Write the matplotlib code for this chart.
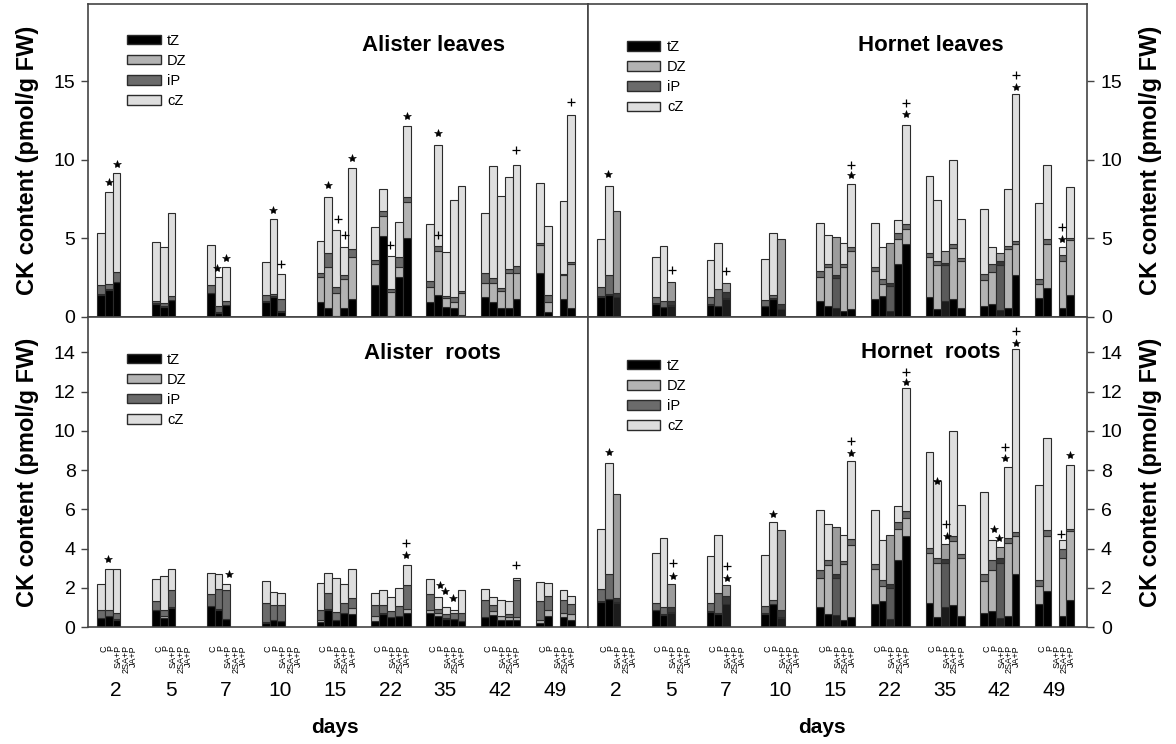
import matplotlib
matplotlib.use('Agg')
import matplotlib.pyplot as plt
from matplotlib.patches import Patch
from matplotlib.transforms import blended_transform_factory

plt.rcParams['font.family'] = ['Liberation Sans', 'DejaVu Sans']

# ---------------- data ----------------
days = [2, 5, 7, 10, 15, 22, 35, 42, 49]
treatments = ['C', 'P', 'SA+P', '2SA+P', 'JA+P']
day_slots = [[0, 1, 2], [0, 1, 2], [0, 1, 2], [0, 1, 2],
             [0, 1, 2, 3, 4], [0, 1, 2, 3, 4], [0, 1, 2, 3, 4], [0, 1, 2, 3, 4],
             [0, 1, 3, 4]]
components = ['tZ', 'DZ', 'iP', 'cZ']

# Alister leaves (pmol/g FW)
al_leaves_tZ = [1.40, 1.72, 2.21, 0.83, 0.66, 1.08, 1.51, 0.27, 0.76, 0.97, 1.29, 0.34,
                0.97, 0.55, 0.05, 0.55, 1.13, 2.04, 5.18, 0.05, 2.53, 5.05,
                0.97, 1.40, 0.62, 0.55, 0.10, 1.25, 0.93, 0.55, 0.55, 1.13,
                2.82, 0.34, 1.13, 0.55]
al_leaves_DZ = [0.05, 0.03, 0.04, 0.03, 0.03, 0.03, 0.04, 0.03, 0.03, 0.03, 0.03, 0.03,
                1.56, 2.65, 1.46, 1.85, 2.71, 1.34, 1.25, 1.55, 0.67, 2.23,
                0.96, 2.80, 0.57, 0.42, 1.45, 0.94, 1.26, 1.13, 2.23, 1.69,
                1.75, 0.63, 1.55, 2.81]
al_leaves_iP = [0.59, 0.35, 0.64, 0.18, 0.18, 0.23, 0.49, 0.40, 0.23, 0.40, 0.13, 0.76,
                0.29, 0.86, 0.42, 0.28, 0.47, 0.25, 0.28, 0.16, 0.64, 0.32,
                0.38, 0.34, 0.17, 0.28, 0.10, 0.59, 0.27, 0.15, 0.26, 0.45,
                0.16, 0.43, 0.07, 0.16]
al_leaves_cZ = [3.29, 5.84, 6.26, 3.72, 3.57, 5.30, 2.55, 1.87, 2.18, 2.08, 4.79, 1.61,
                2.04, 3.56, 3.61, 1.80, 5.16, 2.12, 1.42, 2.14, 2.23, 4.57,
                3.59, 6.37, 2.76, 6.20, 6.71, 3.86, 7.11, 5.88, 5.83, 6.41,
                3.78, 4.40, 4.64, 9.35]

# Hornet (same values shown in both Hornet panels)
ho_tZ = [1.29, 1.41, 1.24, 0.85, 0.61, 0.73, 0.78, 0.68, 1.16, 0.68, 1.16, 0.48,
         1.00, 0.68, 0.60, 0.36, 0.51, 1.16, 1.33, 0.39, 3.40, 4.64,
         1.24, 0.51, 1.02, 1.12, 0.56, 0.73, 0.82, 0.44, 0.56, 2.69,
         1.19, 1.83, 0.55, 1.40]
ho_DZ = [0.05, 0.04, 0.03, 0.03, 0.03, 0.03, 0.03, 0.03, 0.03, 0.03, 0.03, 0.03,
         1.52, 2.48, 1.90, 2.84, 3.67, 1.78, 0.76, 1.58, 1.58, 0.94,
         2.55, 2.77, 2.26, 3.27, 2.98, 1.62, 2.07, 2.84, 3.74, 1.95,
         0.91, 2.83, 2.98, 3.51]
ho_iP = [0.58, 1.24, 0.23, 0.36, 0.38, 0.26, 0.43, 1.04, 0.39, 0.34, 0.20, 0.34,
         0.38, 0.24, 0.20, 0.17, 0.29, 0.26, 0.31, 0.21, 0.39, 0.34,
         0.26, 0.26, 0.17, 0.25, 0.20, 0.37, 0.51, 0.26, 0.22, 0.21,
         0.30, 0.30, 0.43, 0.11]
ho_cZ = [3.06, 5.66, 5.27, 2.55, 3.50, 1.19, 2.38, 2.93, 0.56, 2.62, 3.98, 4.08,
         3.05, 1.84, 2.40, 1.31, 4.00, 2.75, 2.02, 2.50, 0.80, 6.28,
         4.89, 3.91, 0.77, 5.36, 2.47, 4.17, 1.02, 0.54, 3.61, 9.30,
         4.86, 4.68, 0.49, 3.26]

# Alister roots
al_roots_tZ = [0.46, 0.54, 0.37, 0.85, 0.48, 0.99, 1.05, 0.88, 0.39, 0.22, 0.34, 0.29,
               0.26, 0.88, 0.34, 0.70, 0.68, 0.31, 0.65, 0.51, 0.54, 0.70,
               0.70, 0.54, 0.43, 0.39, 0.29, 0.51, 0.60, 0.37, 0.34, 0.37,
               0.22, 0.54, 0.51, 0.37]
al_roots_DZ = [0.02, 0.02, 0.02, 0.02, 0.07, 0.02, 0.02, 0.02, 0.02, 0.02, 0.04, 0.02,
               0.11, 0.02, 0.02, 0.02, 0.28, 0.23, 0.05, 0.02, 0.02, 0.20,
               0.15, 0.17, 0.02, 0.02, 0.02, 0.02, 0.22, 0.17, 0.17, 0.14,
               0.12, 0.34, 0.20, 0.27]
al_roots_iP = [0.40, 0.29, 0.32, 0.46, 0.33, 0.90, 0.63, 1.06, 1.46, 0.99, 0.73, 0.83,
               0.51, 0.83, 0.43, 0.49, 0.53, 0.57, 0.41, 0.29, 0.49, 1.22,
               0.85, 0.23, 0.23, 0.30, 0.40, 0.86, 0.29, 0.02, 0.17, 1.90,
               0.99, 0.68, 0.68, 0.54]
al_roots_cZ = [1.33, 2.13, 2.23, 1.14, 1.72, 1.03, 1.07, 0.76, 0.34, 1.11, 0.68, 0.57,
               1.36, 1.03, 1.72, 0.96, 1.49, 0.63, 0.80, 0.73, 0.94, 1.03,
               0.77, 0.61, 0.34, 0.14, 1.16, 0.57, 0.44, 0.82, 0.65, 0.10,
               0.97, 0.68, 0.52, 0.39]

# significance marks: (day index, position within group, value, symbol)
al_leaves_marks = [(0, 1.5, 8.6, '*'), (0, 2.5, 9.7, '*'), (2, 1.35, 3.1, '*'), (2, 2.5, 3.75, '*'),
                   (3, 1.5, 6.8, '*'), (3, 2.5, 3.4, '+'), (4, 1.5, 8.4, '*'), (4, 2.8, 6.2, '+'),
                   (4, 3.7, 5.2, '+'), (4, 4.5, 10.1, '*'), (5, 2.4, 4.6, '+'), (5, 4.6, 12.8, '*'),
                   (6, 1.55, 11.7, '*'), (6, 1.55, 5.2, '+'), (7, 4.5, 10.6, '+'), (8, 4.5, 13.7, '+')]
ho_leaves_marks = [(0, 1.45, 9.1, '*'), (1, 2.6, 3.0, '+'), (2, 2.5, 2.9, '+'),
                   (4, 4.5, 9.0, '*'), (4, 4.5, 9.65, '+'), (5, 4.5, 12.9, '*'), (5, 4.5, 13.6, '+'),
                   (7, 4.5, 14.65, '*'), (7, 4.5, 15.4, '+'), (8, 3.4, 4.96, '*'), (8, 3.4, 5.7, '+')]
al_roots_marks = [(0, 1.45, 3.49, '*'), (2, 2.9, 2.72, '*'), (5, 4.4, 3.66, '*'), (5, 4.4, 4.3, '+'),
                  (6, 1.7, 2.13, '*'), (6, 2.4, 1.82, '*'), (6, 3.45, 1.48, '*'), (7, 4.5, 3.15, '+')]
ho_roots_marks = [(0, 1.6, 8.93, '*'), (1, 2.75, 2.6, '*'), (1, 2.75, 3.28, '+'), (2, 2.6, 2.5, '*'),
                  (2, 2.6, 3.1, '+'), (3, 1.45, 5.74, '*'), (4, 4.5, 8.88, '*'), (4, 4.5, 9.49, '+'),
                  (5, 4.5, 12.48, '*'), (5, 4.5, 12.98, '+'), (6, 1.5, 7.45, '*'), (6, 2.6, 5.24, '+'),
                  (6, 2.75, 4.64, '*'), (7, 1.7, 4.97, '*'), (7, 2.4, 4.56, '*'), (7, 3.2, 9.18, '+'),
                  (7, 3.2, 8.6, '*'), (7, 4.5, 14.46, '*'), (7, 4.5, 15.1, '+'), (8, 3.3, 4.73, '+'),
                  (8, 4.4, 8.76, '*')]

# ---------------- style ----------------
colors = ['#000000', '#b3b3b3', '#6b6b6b', '#dedede']
dark_colors = ['#1c1c1c', '#5a5a5a', '#383838', '#9c9c9c']
EDGE = '#2b2b2b'
GROUP_OFFSET = 1.154
GROUP_STEP = 7.026
SPINE = '#444444'

fig = plt.figure(figsize=(11.76, 7.44), dpi=100)
W, H = 1176, 744


def px_axes(x0, y0, x1, y1):
    return fig.add_axes([x0 / W, 1 - y1 / H, (x1 - x0) / W, (y1 - y0) / H])


ax_al = px_axes(88, 4, 588, 317)
ax_hl = px_axes(588, 4, 1087, 317)
ax_ar = px_axes(88, 317, 588, 627)
ax_hr = px_axes(588, 317, 1087, 627)


def draw_panel(ax, comps, marks, dark_slot=None):
    xs, slots = [], []
    for g, sl in enumerate(day_slots):
        for s in sl:
            xs.append(GROUP_OFFSET + GROUP_STEP * g + s)
            slots.append(s)
    bottom = [0.0] * len(xs)
    for ci, vals in enumerate(comps):
        fc = [dark_colors[ci] if s == dark_slot else colors[ci] for s in slots]
        ax.bar(xs, vals, width=1.0, bottom=bottom, align='edge', color=fc,
               edgecolor=EDGE, linewidth=0.8, zorder=2)
        bottom = [b + v for b, v in zip(bottom, vals)]
    for g, pos, y, sym in marks:
        x = GROUP_OFFSET + GROUP_STEP * g + pos
        if sym == '*':
            ax.plot(x, y, marker='*', ms=6, color='black', mew=0.4, zorder=3)
        else:
            ax.plot(x, y, marker='+', ms=5.5, color='black', mew=0.9, zorder=3)
    ax.set_xlim(0, 64)
    for sp in ax.spines.values():
        sp.set_color(SPINE)
        sp.set_linewidth(1.2)
    handles = [Patch(facecolor=c, edgecolor=EDGE, linewidth=1.0, label=l)
               for c, l in zip(colors, components)]
    ax.legend(handles=handles, loc='upper left', bbox_to_anchor=(0.078, 0.0), frameon=False,
              fontsize=10.5, handlelength=2.3, handleheight=0.62, labelspacing=0.42,
              handletextpad=0.45, borderpad=0, borderaxespad=0)


draw_panel(ax_al, [al_leaves_tZ, al_leaves_DZ, al_leaves_iP, al_leaves_cZ], al_leaves_marks)
draw_panel(ax_hl, [ho_tZ, ho_DZ, ho_iP, ho_cZ], ho_leaves_marks, dark_slot=2)
draw_panel(ax_ar, [al_roots_tZ, al_roots_DZ, al_roots_iP, al_roots_cZ], al_roots_marks)
draw_panel(ax_hr, [ho_tZ, ho_DZ, ho_iP, ho_cZ], ho_roots_marks, dark_slot=2)

# legend vertical placement
for ax, ytop in [(ax_al, 0.905), (ax_hl, 0.885), (ax_ar, 0.885), (ax_hr, 0.865)]:
    leg = ax.get_legend()
    leg.set_bbox_to_anchor((0.078, ytop), transform=ax.transAxes)

# y axes
for ax in (ax_al, ax_hl):
    ax.set_ylim(0, 19.9)
    ax.set_yticks([0, 5, 10, 15])
for ax in (ax_ar, ax_hr):
    ax.set_ylim(0, 15.8)
    ax.set_yticks(list(range(0, 15, 2)))
for ax in (ax_al, ax_ar):
    ax.tick_params(axis='y', left=True, right=False, labelleft=True, labelright=False,
                   direction='out', length=5, width=1, color=SPINE, labelsize=14, pad=4)
for ax in (ax_hl, ax_hr):
    ax.tick_params(axis='y', left=False, right=True, labelleft=False, labelright=True,
                   direction='out', length=5, width=1, color=SPINE, labelsize=14, pad=5)

# x axes
for ax in (ax_al, ax_hl):
    ax.set_xticks([])
tick_pos, tick_lab = [], []
for g in range(len(days)):
    for k, t in enumerate(treatments):
        tick_pos.append(GROUP_OFFSET + GROUP_STEP * g + 0.85 + 0.95 * k)
        tick_lab.append(t)
for ax in (ax_ar, ax_hr):
    ax.set_xticks(tick_pos)
    ax.set_xticklabels(tick_lab, rotation=90, fontsize=6.5, va='top', ha='center')
    ax.tick_params(axis='x', length=0, pad=13)
    tr = blended_transform_factory(ax.transData, ax.transAxes)
    for g, d in enumerate(days):
        ax.text(GROUP_OFFSET + GROUP_STEP * g + 2.4, -0.205, str(d), transform=tr,
                ha='center', va='center', fontsize=15)

ax_ar.text(0.494, -0.325, 'days', transform=ax_ar.transAxes, ha='center', va='center',
           fontsize=15, fontweight='bold')
ax_hr.text(0.469, -0.325, 'days', transform=ax_hr.transAxes, ha='center', va='center',
           fontsize=15, fontweight='bold')

# titles
ax_al.text(0.69, 0.866, 'Alister leaves', transform=ax_al.transAxes, ha='center', va='center',
           fontsize=16, fontweight='bold')
ax_hl.text(0.687, 0.866, 'Hornet leaves', transform=ax_hl.transAxes, ha='center', va='center',
           fontsize=16, fontweight='bold')
ax_ar.text(0.688, 0.881, 'Alister  roots', transform=ax_ar.transAxes, ha='center', va='center',
           fontsize=16, fontweight='bold')
ax_hr.text(0.687, 0.887, 'Hornet  roots', transform=ax_hr.transAxes, ha='center', va='center',
           fontsize=16, fontweight='bold')

# y labels
ylab = 'CK content (pmol/g FW)'
for yc in (160, 472):
    fig.text(28 / W, 1 - yc / H, ylab, rotation=90, ha='center', va='center',
             fontsize=17, fontweight='bold')
    fig.text(1150 / W, 1 - yc / H, ylab, rotation=90, ha='center', va='center',
             fontsize=17, fontweight='bold')

fig.savefig('out.png', dpi=100)
